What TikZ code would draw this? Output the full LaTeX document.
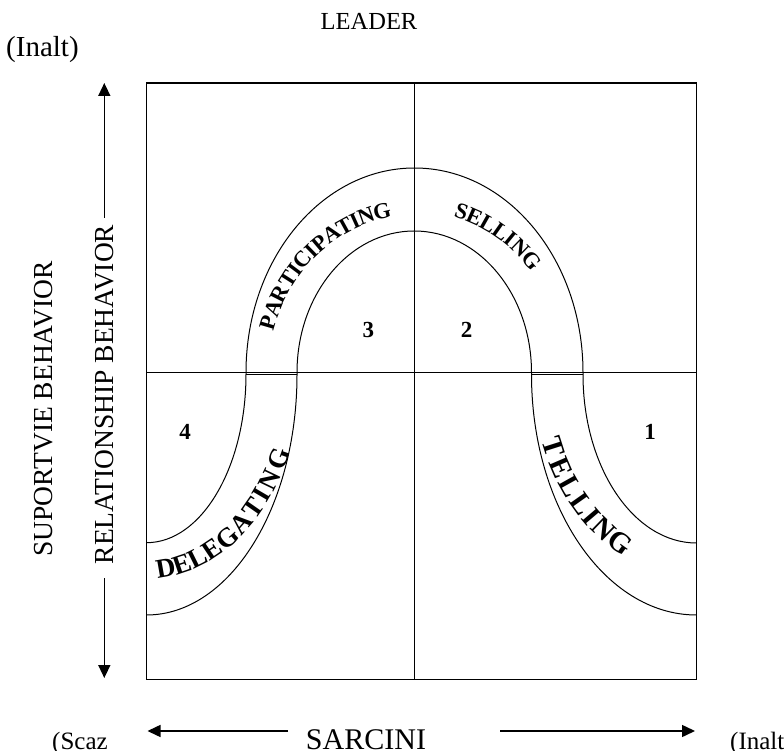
\documentclass[tikz,border=0pt]{standalone}
\usepackage{fontspec}
\setmainfont{Liberation Serif}
\usetikzlibrary{arrows.meta,calc}
% letters of a word set one by one along an ellipse arc
% #1 cx, #2 cy, #3 x radius, #4 y radius, #5 first angle, #6 last angle,
% #7 letter/fraction list, #8 font size, #9 name prefix
\newcommand\bandword[9]{%
  \pgfmathsetmacro\bwh{0.66*#8}%
  \foreach \ch/\f [count=\k] in {#7} {%
    \pgfmathsetmacro\bwt{#5+\f*(#6-#5)}%
    \pgfmathsetmacro\bwang{atan2(#4*cos(\bwt),-#3*sin(\bwt))+((#6>#5)?0:180)}%
    \node[bandletter,font=\fontsize{#8}{#8}\selectfont\bfseries,text height=\bwh pt,rotate=\bwang,name=#9\k]
      at ({#1+#3*cos(\bwt)},{#2+#4*sin(\bwt)}) {\ch};
  }%
}
\begin{document}
\begin{tikzpicture}[x=1pt,y=1pt,
  boxline/.style={line width=1.4pt},
  midline/.style={line width=1.1pt},
  curve/.style={line width=1pt},
  axis/.style={line width=1.5pt,-{Triangle[length=13pt,width=12pt]}},
  num/.style={inner sep=0pt,font=\fontsize{23}{23}\selectfont\bfseries},
  vlabel/.style={inner sep=0pt,rotate=90,font=\fontsize{27.5}{27.5}\selectfont},
  toplabel/.style={inner sep=0pt,anchor=base},
  bandletter/.style={inner sep=0pt,text depth=0pt,anchor=center}
]
\useasboundingbox (0,0) rectangle (784,750);

% frame and quadrant lines
\coordinate (bl) at (146.5,70.5);
\coordinate (tr) at (696.5,667);
\coordinate (mt) at (414.5,667);
\coordinate (mb) at (414.5,70.5);
\coordinate (ml) at (146.5,377.5);
\coordinate (mr) at (696.5,377.5);
\draw[boxline] (bl) rectangle (tr);
\draw[midline] (mt) -- (mb);
\draw[midline] (ml) -- (mr);

% bell-shaped band: upper curve
\draw[curve] (146.5,207.3) arc[start angle=-90,end angle=0,x radius=99.5pt,y radius=168.7pt]
  -- (246,377.5) arc[start angle=180,end angle=0,x radius=168.5pt,y radius=204.5pt]
  -- (583,375.5) arc[start angle=180,end angle=270,x radius=113.5pt,y radius=168.5pt];
% lower curve
\draw[curve] (146.5,135) arc[start angle=-90,end angle=0,x radius=150.5pt,y radius=240.5pt]
  -- (297,377.5) arc[start angle=180,end angle=0,x radius=117.25pt,y radius=141.5pt]
  -- (531.5,375.5) arc[start angle=180,end angle=270,x radius=165pt,y radius=240.5pt];
% short joins just under the middle line
\coordinate (jl1) at (246,375.5); \coordinate (jl2) at (297,375.5);
\coordinate (jr1) at (531.5,375.5); \coordinate (jr2) at (583,375.5);
\draw[line width=0.7pt] (jl1) -- (jl2);
\draw[line width=0.7pt] (jr1) -- (jr2);

% curved words
\bandword{414.2}{377.5}{153}{164.6}{162.6}{102.2}%
  {P/0,A/0.0899,R/0.1872,T/0.2809,I/0.3521,C/0.4270,I/0.5019,P/0.5693,A/0.6591,T/0.7528,I/0.8240,N/0.8989,G/1}{22.5}{part}
\bandword{414.2}{377.5}{157.8}{168.6}{72.5}{41.8}%
  {S/0,E/0.1618,L/0.3383,L/0.5148,I/0.6545,N/0.8015,G/1}{22.5}{sell}
\bandword{146.5}{376}{146.3}{196}{-82.5}{-25.7}%
  {D/0,E/0.1152,L/0.2258,E/0.3365,G/0.4563,A/0.5807,T/0.6959,I/0.7835,N/0.8756,G/1}{27}{dele}
\bandword{696.5}{376}{153.7}{194.8}{202}{240.1}%
  {T/0,E/0.1739,L/0.3479,L/0.5218,I/0.6595,N/0.8044,G/1}{29}{tell}

% quadrant numbers
\node[num] (n1) at (650,318.3) {1};
\node[num] (n2) at (466.7,420) {2};
\node[num] (n3) at (368.3,420) {3};
\node[num] (n4) at (185,318.3) {4};

% top labels
\node[toplabel,font=\fontsize{24.5}{24.5}\selectfont] (leader) at (369,720) {LEADER};
\node[inner sep=0pt,anchor=base west,font=\fontsize{29}{29}\selectfont] (inaltTop) at (6,693.7) {(Inalt)};

% vertical axis
\node[vlabel] (rel) at (104.3,355.5) {RELATIONSHIP BEHAVIOR};
\node[vlabel] (sup) at (44,341) {SUPORTVIE BEHAVIOR};
\coordinate (vtopA) at (104.3,532);
\coordinate (vtopB) at (104.3,667);
\coordinate (vbotA) at (104.3,172);
\coordinate (vbotB) at (104.3,72);
\draw[axis] (vtopA) -- (vtopB);
\draw[axis] (vbotA) -- (vbotB);

% horizontal axis
\node[toplabel,font=\fontsize{30}{30}\selectfont] (sarcini) at (366,0.5) {SARCINI};
\node[inner sep=0pt,anchor=base west,font=\fontsize{25}{25}\selectfont] (scaz) at (52,1) {(Scaz};
\node[inner sep=0pt,anchor=base west,font=\fontsize{25}{25}\selectfont] (inaltBot) at (730,1) {(Inalt};
\coordinate (hlA) at (288,19);
\coordinate (hlB) at (147.5,19);
\coordinate (hrA) at (500,19);
\coordinate (hrB) at (695,19);
\draw[axis] (hlA) -- (hlB);
\draw[axis] (hrA) -- (hrB);
\end{tikzpicture}
\end{document}
